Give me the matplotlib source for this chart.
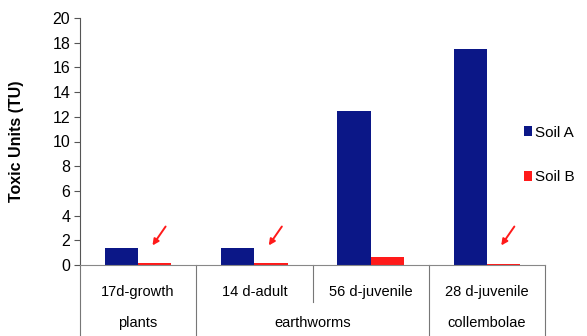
import numpy as np
import matplotlib.pyplot as plt

plt.rcParams['font.family'] = ['Liberation Sans', 'DejaVu Sans']

# data
tests = ['17d-growth', '14 d-adult', '56 d-juvenile', '28 d-juvenile']
organisms = ['plants', 'earthworms', 'collembolae']
soil_a = [1.4, 1.4, 12.5, 17.5]
soil_b = [0.15, 0.15, 0.65, 0.1]
arrow_at = [0, 1, 3]  # categories flagged with an arrow

x = np.arange(len(tests))
w = 0.285
blue = '#0b1787'
red = '#ff1a1a'

fig = plt.figure(figsize=(5.87, 3.36), dpi=100)
ax = fig.add_axes([80 / 587, 1 - 265 / 336, 465 / 587, 247 / 336])

ax.bar(x - w / 2, soil_a, w, color=blue, label='Soil A')
ax.bar(x + w / 2, soil_b, w, color=red, label='Soil B')

# red arrows pointing at the tiny Soil B bars
for i in arrow_at:
    ax.annotate('', xy=(x[i] + 0.11, 1.4), xytext=(x[i] + 0.25, 3.3),
                arrowprops=dict(arrowstyle='-|>', color=red, lw=1.4,
                                mutation_scale=9))

ax.set_xlim(-0.5, 3.5)
ax.set_ylim(0, 20)
ax.set_yticks(range(0, 21, 2))
ax.tick_params(axis='y', labelsize=11.5, length=4, pad=3, color='#555555')
ax.set_xticks([])
for s in ['top', 'right']:
    ax.spines[s].set_visible(False)
ax.spines['left'].set_color('#555555')
ax.spines['bottom'].set_color('#888888')
fig.text(17 / 587, 1 - 141 / 336, 'Toxic Units (TU)', rotation=90,
         ha='center', va='center', fontsize=11.5, fontweight='bold')

# category table under the axis
tr = ax.get_xaxis_transform()
for i, t in enumerate(tests):
    ax.text(x[i], -0.11, t, transform=tr, ha='center', va='center', fontsize=10.5)
ax.text(0, -0.235, organisms[0], transform=tr, ha='center', va='center', fontsize=10.5)
ax.text(1.5, -0.235, organisms[1], transform=tr, ha='center', va='center', fontsize=10.5)
ax.text(3, -0.235, organisms[2], transform=tr, ha='center', va='center', fontsize=10.5)
for xv in [-0.5, 0.5, 2.5, 3.5]:
    ax.plot([xv, xv], [0, -0.3], transform=tr, color='#777777', lw=0.8, clip_on=False)
ax.plot([1.5, 1.5], [0, -0.15], transform=tr, color='#777777', lw=0.8, clip_on=False)

ax.legend(loc='center left', bbox_to_anchor=(524 / 587, 1 - 155 / 336),
          bbox_transform=fig.transFigure, frameon=False, fontsize=11,
          handlelength=0.5, handleheight=0.6, handletextpad=0.25,
          labelspacing=2.0, borderaxespad=0, borderpad=0)

fig.savefig('out.png', dpi=100)
